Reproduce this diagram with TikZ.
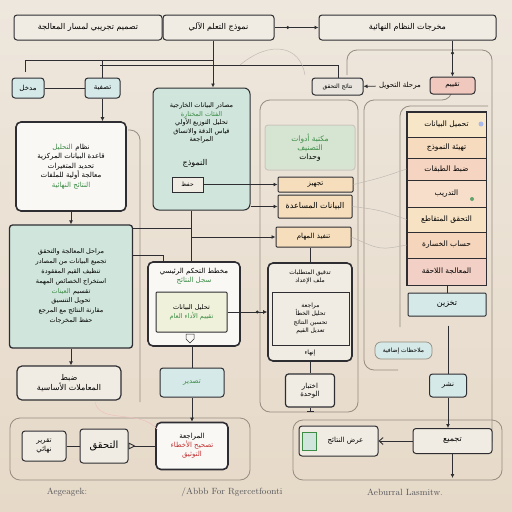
\documentclass[tikz,border=0pt]{standalone}
\usepackage{fontspec}
\usepackage{xcolor}
\usepackage{tikz}
\usetikzlibrary{arrows.meta,positioning,calc}
\newfontfamily\arabicfont[Script=Arabic]{DejaVu Sans}
\TeXXeTstate=1
\newcommand{\artx}[1]{{\arabicfont\beginR #1\endR}}
\definecolor{paperTop}{RGB}{238,231,221}
\definecolor{paperBot}{RGB}{230,217,200}
\definecolor{ink}{RGB}{45,45,50}
\definecolor{frameg}{RGB}{150,140,128}
\definecolor{paper2}{RGB}{241,236,227}
\definecolor{gray1}{RGB}{233,229,222}
\definecolor{teal1}{RGB}{208,229,220}
\definecolor{blue1}{RGB}{213,233,232}
\definecolor{orange1}{RGB}{246,222,188}
\definecolor{pink1}{RGB}{241,200,190}
\definecolor{green1}{RGB}{206,230,208}
\definecolor{greenT}{RGB}{60,140,70}
\definecolor{redT}{RGB}{195,50,50}
\definecolor{whitebox}{RGB}{249,248,245}
\definecolor{yellowin}{RGB}{240,241,218}
\definecolor{u1}{RGB}{247,231,200}
\definecolor{u2}{RGB}{246,219,191}
\definecolor{u3}{RGB}{245,212,193}
\definecolor{u4}{RGB}{246,222,202}
\definecolor{u5}{RGB}{247,227,196}
\definecolor{u6}{RGB}{245,214,189}
\definecolor{u7}{RGB}{242,208,197}

\begin{document}
\begin{tikzpicture}[x=1pt, y=-1pt,
                font=\fontsize{7}{8.5}\selectfont,
                box/.style={draw=ink, line width=1pt, rounded corners=3pt, align=center, inner sep=2pt},
                notestep/.style={box, fill=paper2},
                tealstep/.style={box, fill=teal1},
                bluestep/.style={box, fill=blue1},
                orangestep/.style={box, fill=orange1},
                whitestep/.style={box, fill=whitebox, line width=1.6pt, rounded corners=5pt},
                bus/.style={draw=ink, line width=0.9pt, -{Latex[length=4pt,width=4pt]}},
                wire/.style={draw=ink, line width=0.9pt},
                dotmark/.style={circle, fill=ink, inner sep=1.2pt},
                frame/.style={draw=frameg, line width=0.8pt, rounded corners=10pt},
                sketch/.style={draw=frameg!60, line width=0.5pt}
            ]
            \useasboundingbox (0,0) rectangle (512,512);
            \fill[top color=paperTop, bottom color=paperBot] (0,0) rectangle (512,512);

            % faint frames behind the boxes
            \draw[frame] (347,75) -- (347,50) -- (492,50) -- (492,442);
            \draw[frame] (452,94) -- (452,100) -- (364,100) -- (364,370) -- (398,370);
            \draw[frame] (400,327) -- (400,106) -- (488,106);
            \draw[frame] (260,100) rectangle (358,412);
            \draw[frame] (128,130) -- (140,130) -- (140,402);
            \draw[frame] (10,418) rectangle (250,480);
            \draw[frame] (293,420) rectangle (502,480);

            % top row
            \node[notestep, minimum width=148pt, minimum height=25pt, font=\fontsize{8}{9}\selectfont] (topl) at (88,27.5) {\artx{تصميم تجريبي لمسار المعالجة}};
            \node[notestep, minimum width=111pt, minimum height=25pt, font=\fontsize{8}{9}\selectfont, right=0pt of topl] (topr) {\artx{نموذج التعلم الآلي}};
            \node[notestep, minimum width=177pt, minimum height=25pt, font=\fontsize{8}{9}\selectfont] (outB) at (407.5,27.5) {\artx{مخرجات النظام النهائية}};
            \draw[bus] (topr) -- node[dotmark, pos=0.3]{} (outB);

            % bus lines
            \coordinate (busL) at (25,60);
            \coordinate (busR) at (213,60);
            \coordinate (bus2L) at (100,65);
            \coordinate (bus2R) at (338,65);
            \draw[wire] (25,72) -- (busL) -- (busR);

            \node[bluestep, minimum width=32pt, minimum height=20pt] (inD) at (28,88) {\artx{مدخل}};
            \node[bluestep, minimum width=35pt, minimum height=20pt] (filtE) at (102.5,88) {\artx{تصفية}};
            \draw[wire] (inD) -- (filtE);
            \draw[wire] (busL -| filtE) -- (filtE.north);

            \node[notestep, fill=gray1, minimum width=51pt, minimum height=17pt, font=\fontsize{6}{7}\selectfont] (chkG) at (337.5,86.5) {\artx{نتائج التحقق}};
            \node (hint) at (400,86) {\artx{مرحلة التحويل}};
            \node[box, fill=pink1, minimum width=45pt, minimum height=17pt] (evalP) at (452.5,85.5) {\artx{تقييم}};
            \draw[bus] (hint) -- (chkG);
            \draw[bus] (outB.south -| evalP) -- node[dotmark, pos=0.35]{} (evalP);
            \draw[wire] (bus2L) -- (bus2R) -- (bus2R |- chkG.north);

            % green block
            \node[tealstep, minimum width=97pt, minimum height=122pt, rounded corners=6pt] (procC) at (201.5,149) {};
            \node[align=center, font=\fontsize{6.5}{8.5}\selectfont] (procCtxt) at (201.5,123) {\artx{مصادر البيانات الخارجية}\\\textcolor{greenT}{\artx{الفئات المختارة}}\\\artx{تحليل التوزيع الأولي}\\\artx{قياس الدقة والاتساق}\\\artx{المراجعة}};
            \node[font=\fontsize{8}{9}\selectfont] (procCname) at (195,163) {\artx{النموذج}};
            \node[notestep, rounded corners=0pt, minimum width=31pt, minimum height=15pt, font=\fontsize{6}{7}\selectfont] (saveC) at (187.5,184.5) {\artx{حفظ}};
            \draw[bus] (busR |- topr.south) -- (busR |- procC.north);

            \node[whitestep, minimum width=110pt, minimum height=89pt, font=\fontsize{7}{9.5}\selectfont] (procF) at (71,166.5) {\textcolor{greenT}{\artx{التحليل}} \artx{نظام}\\\artx{قاعدة البيانات المركزية}\\\artx{تحديد المتغيرات}\\\artx{معالجة أولية للملفات}\\\textcolor{greenT}{\artx{النتائج النهائية}}};
            \draw[bus] (filtE.south) -- (filtE.south |- procF.north);

            \node[box, fill=teal1, line width=1.3pt, minimum width=123pt, minimum height=123pt, font=\fontsize{6.5}{9.8}\selectfont] (procG) at (71,286.5) {\artx{مراحل المعالجة والتحقق}\\\artx{تجميع البيانات من المصادر}\\\artx{تنظيف القيم المفقودة}\\\artx{استخراج الخصائص المهمة}\\\textcolor{greenT}{\artx{العينات}} \artx{تقسيم}\\\artx{تحويل التنسيق}\\\artx{مقارنة النتائج مع المرجع}\\\artx{حفظ المخرجات}};
            \draw[bus] (procF) -- (procG);

            \node[notestep, line width=1.2pt, rounded corners=5pt, minimum width=104pt, minimum height=34pt, font=\fontsize{8}{10}\selectfont] (tuneH) at (69,383) {\artx{ضبط}\\\artx{المعاملات الأساسية}};
            \draw[bus] (procG.south) -- (procG.south |- tuneH.north);

            % orange column
            \node[box, draw=frameg!50, fill=green1, fill opacity=0.7, text opacity=1, minimum width=90pt, minimum height=45pt, font=\fontsize{7.5}{9}\selectfont] (libO) at (310,147.5) {\textcolor{greenT}{\artx{مكتبة أدوات}}\\\textcolor{greenT}{\artx{التصنيف}}\\\artx{وحدات}};
            \node[orangestep, rounded corners=1pt, minimum width=75pt, minimum height=15pt] (prepN1) at (315.5,184.5) {\artx{تجهيز}};
            \node[orangestep, rounded corners=1pt, minimum width=74pt, minimum height=23pt, font=\fontsize{8}{9}\selectfont] (infoN2) at (315,206.5) {\artx{البيانات المساعدة}};
            \node[orangestep, rounded corners=1pt, minimum width=75pt, minimum height=20pt] (taskN3) at (313.5,237) {\artx{تنفيذ المهام}};
            \draw[bus] (saveC.east) -- (prepN1.west);
            \draw[bus] (procC.east |- infoN2.west) -- (infoN2.west);
            \coordinate (jn) at (192,228);
            \draw[wire] (procG.east |- jn) -- (jn);
            \draw[bus] (jn |- taskN3.west) -- (taskN3.west);

            % control block
            \node[whitestep, minimum width=92pt, minimum height=84pt] (ctrlM) at (194,304) {};
            \node[align=center] (ctrlMtop) at (194,276) {\artx{مخطط التحكم الرئيسي}\\\textcolor{greenT}{\artx{سجل النتائج}}};
            \node[box, fill=yellowin, rounded corners=1pt, minimum width=71pt, minimum height=40pt, font=\fontsize{6.5}{9}\selectfont] (ctrlMin) at (191.5,312) {\artx{تحليل البيانات}\\\textcolor{greenT}{\artx{تقييم الأداء العام}}};
            \draw[ink, line width=0.5pt] (186,334) -- (194,334) -- (194,339) -- (190,343) -- (186,339) -- cycle;
            \draw[wire] (procC.south -| ctrlMin) -- (ctrlMin |- ctrlM.north);
            \draw[wire] ([yshift=31.5pt]procG.east) -| ([xshift=-31pt]ctrlM.north);

            \node[whitestep, fill=paper2, minimum width=84pt, minimum height=98pt] (chkP) at (310,312) {};
            \node[align=center, font=\fontsize{6}{7.5}\selectfont] (chkPtop) at (310,277) {\artx{تدقيق المتطلبات}\\\artx{ملف الإعداد}};
            \node[box, line width=0.7pt, rounded corners=0pt, fill=paper2, minimum width=77pt, minimum height=53pt, font=\fontsize{6}{8.5}\selectfont] (chkPin) at (310.5,318.5) {\artx{مراجعة}\\\artx{تحليل الخطأ}\\\artx{تحسين النتائج}\\\artx{تعديل القيم}};
            \node[font=\fontsize{6}{7}\selectfont] (chkPbot) at (310,353) {\artx{إنهاء}};
            \draw[wire] (taskN3.south -| chkP) -- (chkP.north);
            \draw[bus] (ctrlMin.east) -- node[dotmark, pos=0.75]{} (chkP.west |- ctrlMin.east);

            % lower middle
            \node[bluestep, minimum width=64pt, minimum height=29pt] (expL) at (192,382.5) {\textcolor{greenT}{\artx{تصدير}}};
            \node[notestep, minimum width=49pt, minimum height=33pt, line width=1.2pt] (testQ) at (310,390.5) {\artx{اختبار}\\\artx{الوحدة}};
            \coordinate (qEnd) at (310,412);
            \draw[wire] (ctrlM.south -| expL) -- (expL.north);
            \draw[wire] (chkP.south) -- (testQ.north);
            \draw[ink, line width=0.9pt, -{Bar[width=7pt]}] (testQ.south) -- (qEnd);

            % bottom row
            \node[notestep, minimum width=44pt, minimum height=30pt] (rptI) at (44,446) {\artx{تقرير}\\\artx{نهائي}};
            \node[notestep, minimum width=48pt, minimum height=34pt, font=\fontsize{10}{11}\selectfont] (verJ) at (104,446) {\artx{التحقق}};
            \node[whitestep, minimum width=72pt, minimum height=47pt, font=\fontsize{7}{9}\selectfont] (reviewK) at (192,446) {\artx{المراجعة}\\\textcolor{redT}{\artx{تصحيح الأخطاء}}\\\textcolor{redT}{\artx{التوثيق}}};
            \draw[wire] (rptI) -- (verJ);
            \draw[ink, line width=0.9pt, {Triangle[open, reversed, length=7pt, width=7pt]}-] (verJ.east) -- (reviewK.west);
            \draw[bus] (expL.south) -- (reviewK.north);

            % right stack
            \foreach \yy/\hh/\col/\txt [count=\i] in {112/25/u1/تحميل البيانات, 137/21/u2/تهيئة النموذج, 158/22/u3/ضبط الطبقات, 180/27/u4/التدريب, 207/25/u5/التحقق المتقاطع, 232/26/u6/حساب الخسارة, 258/27/u7/المعالجة اللاحقة}
                \node[draw=ink, line width=0.9pt, fill=\col, minimum width=79pt, minimum height=\hh pt, inner sep=0pt, font=\fontsize{7.5}{9}\selectfont] (stack\i) at (446.5,\yy+\hh/2) {\artx{\txt}};
            \draw[ink, line width=1.4pt] (stack1.north west) rectangle (stack7.south east);
            \fill[blue1!80!blue] (481,124) circle (2.5pt);
            \fill[greenT!80] (472,199) circle (2pt);

            \node[bluestep, rounded corners=1pt, minimum width=78pt, minimum height=23pt, font=\fontsize{8}{9}\selectfont] (storV) at (447,304.5) {\artx{تخزين}};
            \draw[wire] (stack7.south -| storV) -- (storV.north);
            \node[box, fill=blue1, draw=frameg, line width=0.7pt, rounded corners=6pt, minimum width=57pt, minimum height=17pt, font=\fontsize{6}{7}\selectfont] (noteW) at (403.5,350.5) {\artx{ملاحظات إضافية}};
            \node[bluestep, minimum width=37pt, minimum height=23pt] (pubT) at (448,385.5) {\artx{نشر}};
            \draw[wire] ([yshift=-9pt]storV.south -| pubT) -- (pubT.north);

            \node[notestep, minimum width=79pt, minimum height=25pt, font=\fontsize{8}{9}\selectfont] (aggS) at (452.5,441) {\artx{تجميع}};
            \node[notestep, minimum width=79pt, minimum height=30pt] (showR) at (338.5,441) {\hspace{14pt}\artx{عرض النتائج}};
            \node[draw=greenT, fill=teal1, line width=0.6pt, minimum width=14pt, minimum height=18pt, inner sep=0pt] (iconR) at (309,441) {};
            \coordinate (endS) at (452.5,478);
            \draw[bus] (pubT.south) -- (pubT.south |- aggS.north);
            \draw[ink, line width=0.9pt, -{Straight Barb[length=4pt,width=7pt]}] (aggS.west) -- (showR.east);
            \draw[bus] (aggS.south) -- (endS);

            % pencil strokes
            \draw[sketch] (prepN1.east) .. controls (380,178) .. (stack3.west);
            \draw[sketch] (infoN2.east) .. controls (380,210) .. (stack5.west);
            \draw[sketch] (taskN3.east) .. controls (380,250) .. (stack6.west);
            \draw[sketch] (240,65) .. controls (270,40) and (300,45) .. (305,75);
            \draw[draw=redT!30, line width=0.5pt] (95,402) .. controls (100,425) and (140,408) .. (158,430);

            % captions
            \node[text=ink!80, font=\fontsize{9}{10}\selectfont] (capA) at (67,492) {Aegeagek:};
            \node[text=ink!80, font=\fontsize{9}{10}\selectfont] (capB) at (232,492) {/Abbb For Rgercetfoonti};
            \node[text=ink!80, font=\fontsize{9}{10}\selectfont] (capC) at (405,492) {Aeburral Lasmitw.};
        \end{tikzpicture}
\end{document}
